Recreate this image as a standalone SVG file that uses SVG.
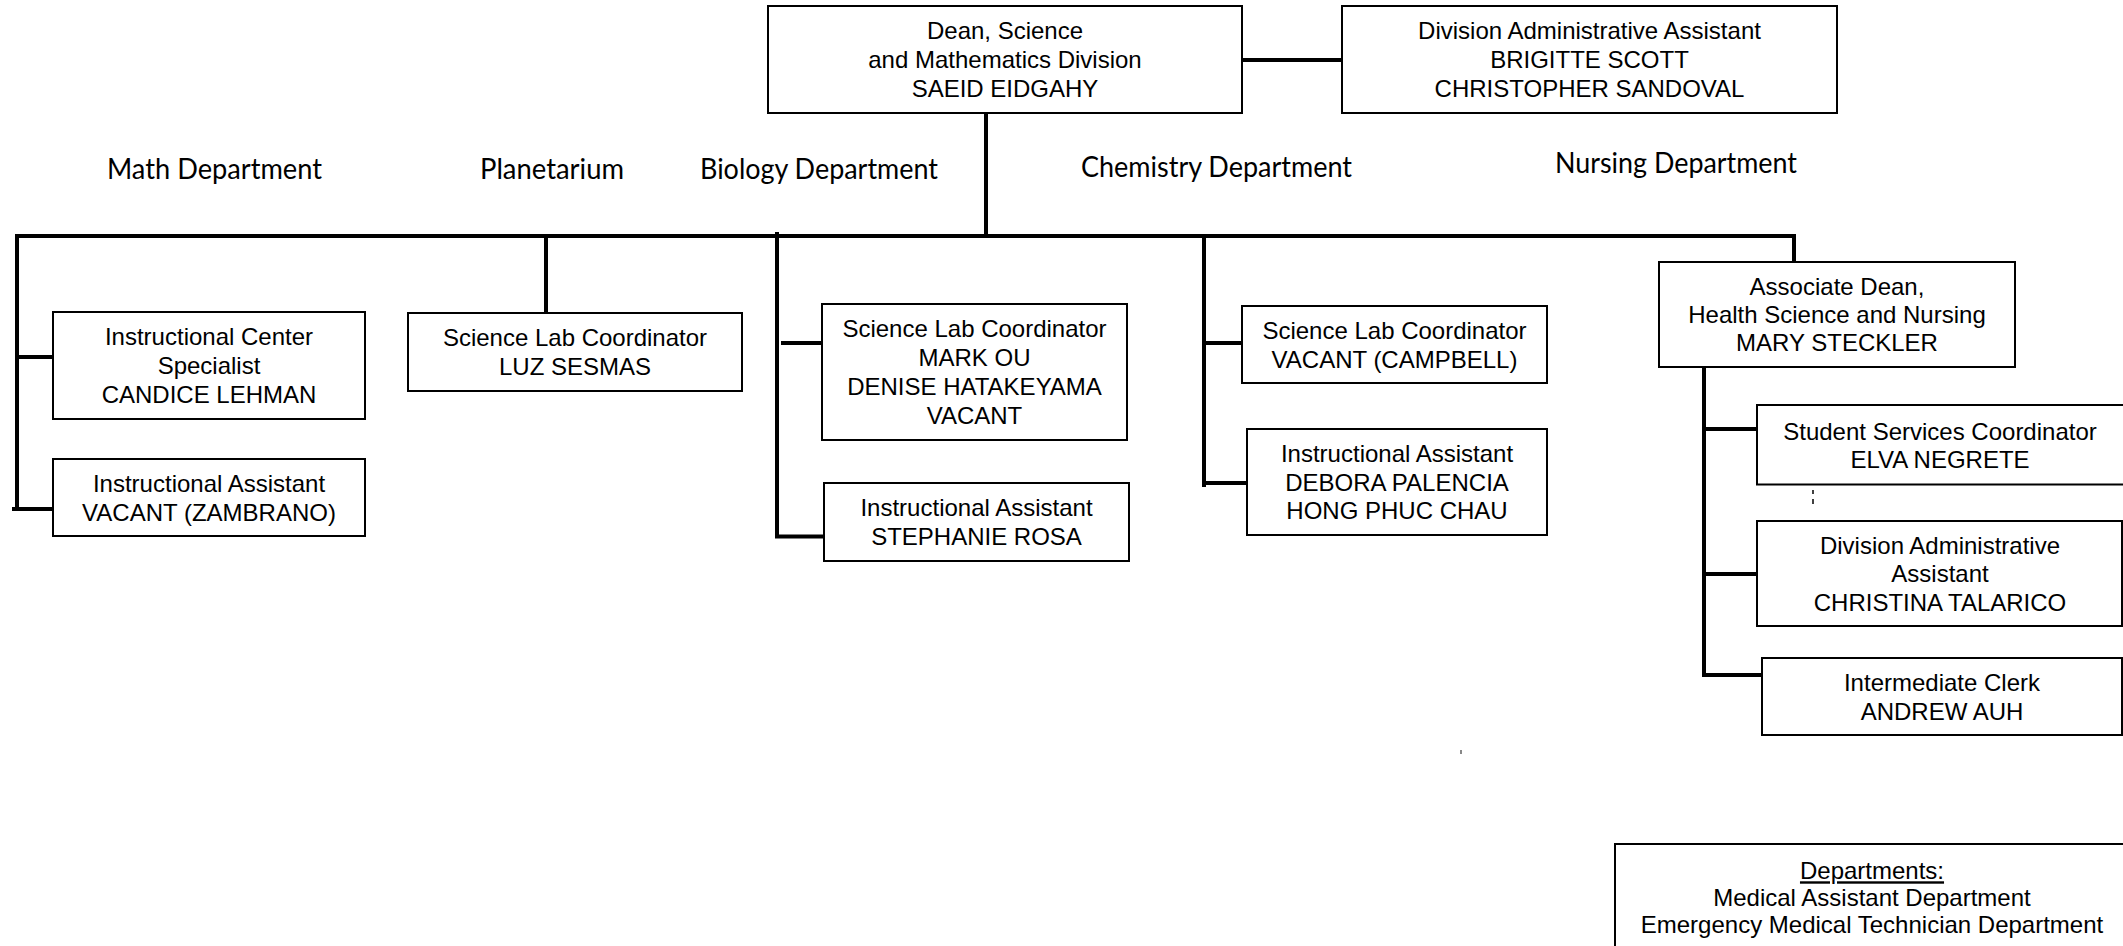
<svg xmlns="http://www.w3.org/2000/svg" width="2123" height="946" viewBox="0 0 2123 946">
<style>
.box{fill:#fff;stroke:#000;stroke-width:2}
.t{font-family:"Liberation Sans",Arial,sans-serif;font-size:24px;fill:#000;text-anchor:middle}
.dept{font-family:Lato,"Open Sans",sans-serif;font-size:29px;fill:#000}
.c{fill:none;stroke:#000;stroke-width:4;stroke-linecap:butt}
</style>
<rect width="2123" height="946" fill="#fff"/>
<g id="dept-labels">
<text class="dept" x="107" y="179.3" textLength="215" lengthAdjust="spacingAndGlyphs">Math Department</text>
<text class="dept" x="480" y="179.3" textLength="144" lengthAdjust="spacingAndGlyphs">Planetarium</text>
<text class="dept" x="700" y="179.3" textLength="238" lengthAdjust="spacingAndGlyphs">Biology Department</text>
<text class="dept" x="1081" y="177.3" textLength="271" lengthAdjust="spacingAndGlyphs">Chemistry Department</text>
<text class="dept" x="1555" y="173" textLength="242" lengthAdjust="spacingAndGlyphs">Nursing Department</text>
</g>
<g id="connectors">
<line class="c" x1="1242" y1="60" x2="1342" y2="60"/>
<line class="c" x1="986" y1="113" x2="986" y2="236"/>
<polyline class="c" points="16,236 1794,236 1794,262"/>
<line class="c" x1="17" y1="234" x2="17" y2="511"/>
<line class="c" x1="17" y1="357" x2="53" y2="357"/>
<line class="c" x1="12" y1="509" x2="53" y2="509"/>
<line class="c" x1="546" y1="236" x2="546" y2="313"/>
<polyline class="c" points="777,232 777,536.5 824,536.5"/>
<line class="c" x1="781" y1="343" x2="822" y2="343"/>
<line class="c" x1="1204" y1="236" x2="1204" y2="487"/>
<line class="c" x1="1204" y1="343" x2="1242" y2="343"/>
<line class="c" x1="1202" y1="483" x2="1247" y2="483"/>
<polyline class="c" points="1704,367 1704,675 1762,675"/>
<line class="c" x1="1704" y1="429" x2="1757" y2="429"/>
<line class="c" x1="1704" y1="574" x2="1757" y2="574"/>
</g>
<g id="dean">
<rect class="box" x="768" y="6" width="474" height="107"/>
<text class="t" x="1005" y="39">Dean, Science</text>
<text class="t" x="1005" y="68">and Mathematics Division</text>
<text class="t" x="1005" y="97">SAEID EIDGAHY</text>
</g>
<g id="div-admin">
<rect class="box" x="1342" y="6" width="495" height="107"/>
<text class="t" x="1589.5" y="39">Division Administrative Assistant</text>
<text class="t" x="1589.5" y="68">BRIGITTE SCOTT</text>
<text class="t" x="1589.5" y="97">CHRISTOPHER SANDOVAL</text>
</g>
<g id="math-ics">
<rect class="box" x="53" y="312" width="312" height="107"/>
<text class="t" x="209" y="345.2">Instructional Center</text>
<text class="t" x="209" y="374">Specialist</text>
<text class="t" x="209" y="402.8">CANDICE LEHMAN</text>
</g>
<g id="math-ia">
<rect class="box" x="53" y="459" width="312" height="77"/>
<text class="t" x="209" y="491.7">Instructional Assistant</text>
<text class="t" x="209" y="520.5">VACANT (ZAMBRANO)</text>
</g>
<g id="planet-slc">
<rect class="box" x="408" y="313" width="334" height="78"/>
<text class="t" x="575" y="346.2">Science Lab Coordinator</text>
<text class="t" x="575" y="375">LUZ SESMAS</text>
</g>
<g id="bio-slc">
<rect class="box" x="822" y="304" width="305" height="136"/>
<text class="t" x="974.5" y="337.4">Science Lab Coordinator</text>
<text class="t" x="974.5" y="366.2">MARK OU</text>
<text class="t" x="974.5" y="395">DENISE HATAKEYAMA</text>
<text class="t" x="974.5" y="423.8">VACANT</text>
</g>
<g id="bio-ia">
<rect class="box" x="824" y="483" width="305" height="78"/>
<text class="t" x="976.5" y="516.2">Instructional Assistant</text>
<text class="t" x="976.5" y="545">STEPHANIE ROSA</text>
</g>
<g id="chem-slc">
<rect class="box" x="1242" y="306" width="305" height="77"/>
<text class="t" x="1394.5" y="338.7">Science Lab Coordinator</text>
<text class="t" x="1394.5" y="367.5">VACANT (CAMPBELL)</text>
</g>
<g id="chem-ia">
<rect class="box" x="1247" y="429" width="300" height="106"/>
<text class="t" x="1397" y="461.8">Instructional Assistant</text>
<text class="t" x="1397" y="490.6">DEBORA PALENCIA</text>
<text class="t" x="1397" y="519.4">HONG PHUC CHAU</text>
</g>
<g id="assoc-dean">
<rect class="box" x="1659" y="262" width="356" height="105"/>
<text class="t" x="1837" y="295">Associate Dean,</text>
<text class="t" x="1837" y="323">Health Science and Nursing</text>
<text class="t" x="1837" y="351">MARY STECKLER</text>
</g>
<g id="nurs-ssc">
<rect class="box" x="1757" y="405" width="375" height="79.5"/>
<text class="t" x="1940" y="439.6">Student Services Coordinator</text>
<text class="t" x="1940" y="467.6">ELVA NEGRETE</text>
</g>
<g id="nurs-daa">
<rect class="box" x="1757" y="521" width="365" height="105"/>
<text class="t" x="1940" y="553.6">Division Administrative</text>
<text class="t" x="1940" y="582.1">Assistant</text>
<text class="t" x="1940" y="610.6">CHRISTINA TALARICO</text>
</g>
<g id="nurs-clerk">
<rect class="box" x="1762" y="658" width="360" height="77"/>
<text class="t" x="1942" y="690.7">Intermediate Clerk</text>
<text class="t" x="1942" y="719.5">ANDREW AUH</text>
</g>
<g id="departments">
<rect class="box" x="1615" y="844" width="530" height="130"/>
<text class="t" x="1872" y="879.3" text-decoration="underline">Departments:</text>
<text class="t" x="1872" y="906">Medical Assistant Department</text>
<text class="t" x="1872" y="933">Emergency Medical Technician Department</text>
</g>
<g id="marks">
<line x1="1813" y1="490" x2="1813" y2="494" stroke="#000" stroke-width="1.5"/>
<line x1="1813" y1="499" x2="1813" y2="504" stroke="#000" stroke-width="1.5"/>
<rect x="1460" y="750" width="2" height="4" fill="#888"/>
</g>
</svg>
